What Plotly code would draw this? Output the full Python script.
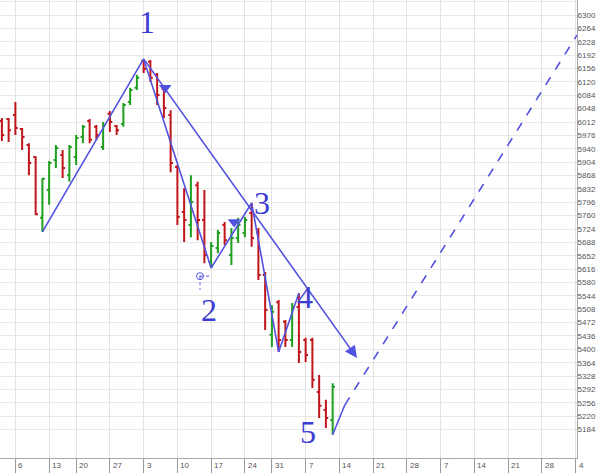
import plotly.graph_objects as go

# ---- data (trading-day index on x) ----
bar_index = list(range(50))
opens  = [6015, 6020, 6031, 5993, 5950, 5918, 5754, 5829, 5910, 5923,
          5869, 5918, 5972, 6015, 5999, 5945, 6034, 6001, 6007, 6066,
          6104, 6176, 6174, 6139, 6101, 6031, 5891, 5770, 5735, 5842,
          5748, 5635, 5673, 5735, 5654, 5700, 5713, 5767, 5716, 5600,
          5439, 5527, 5474, 5425, 5514, 5425, 5425, 5285, 5237, 5210]
highs  = [6023, 6023, 6066, 5996, 5955, 5920, 5861, 5907, 5950, 5937,
          5950, 5977, 6004, 6020, 6004, 6012, 6042, 6004, 6063, 6104,
          6139, 6182, 6179, 6144, 6106, 6044, 5896, 5834, 5869, 5851,
          5829, 5689, 5721, 5743, 5727, 5754, 5756, 5794, 5727, 5608,
          5519, 5533, 5479, 5525, 5552, 5431, 5431, 5331, 5264, 5309]
lows   = [5961, 5958, 5977, 5937, 5869, 5762, 5716, 5789, 5888, 5861,
          5851, 5896, 5955, 5955, 5964, 5937, 5985, 5977, 5999, 6058,
          6098, 6144, 6120, 6058, 6023, 5877, 5735, 5689, 5702, 5694,
          5632, 5619, 5659, 5681, 5627, 5686, 5702, 5676, 5587, 5452,
          5406, 5393, 5406, 5406, 5363, 5366, 5296, 5215, 5188, 5170]
closes = [5977, 5990, 5996, 5972, 5902, 5764, 5859, 5902, 5942, 5888,
          5945, 5969, 5999, 5964, 5977, 6004, 6012, 5990, 6058, 6098,
          6131, 6155, 6131, 6085, 6050, 5902, 5756, 5748, 5797, 5748,
          5654, 5678, 5713, 5694, 5700, 5735, 5748, 5700, 5600, 5506,
          5501, 5425, 5425, 5514, 5393, 5385, 5318, 5248, 5215, 5299]

# wave pivots (index, value)
wave_x = [6, 21, 31, 37, 41, 44]
wave_y = [5716, 6182, 5619, 5794, 5393, 5552]
wave_labels = ["1", "2", "3", "4", "5"]
label_x = [21.5, 30.7, 38.5, 44.9, 45.3]
label_y = [6281, 5506, 5794, 5541, 5178]

# channel line from wave 1 with arrow
channel_x = [21, 52.6]
channel_y = [6182, 5377]

# projection from wave 5
proj_solid_x = [49, 50.8]
proj_solid_y = [5170, 5250]
proj_dash_x = [50.8, 85.2]
proj_dash_y = [5250, 6246]

# signal triangles
signal_x = [24.2, 34.4]
signal_y = [6104, 5743]

# small marker near wave 2
mark_x = [29.35]
mark_y = [5597]
mark_h_x = [29.35, 30.8]
mark_v_y = [5597, 5560]

# axis ticks
x_tick_pos = [2, 7, 11, 16, 21, 26, 31, 36, 40, 45, 50, 55, 60, 65, 70, 75, 80, 85]
x_tick_text = ["6", "13", "20", "27", "3", "10", "17", "24", "31", "7", "14",
               "21", "28", "7", "14", "21", "28", "4"]
y_ticks = list(range(5184, 6337, 36))

BLUE = "#5252e0"
TXT_BLUE = "#3c3cd2"

fig = go.Figure()

fig.add_trace(go.Ohlc(
    x=bar_index, open=opens, high=highs, low=lows, close=closes,
    increasing=dict(line=dict(color="#1f9e1f", width=2)),
    decreasing=dict(line=dict(color="#c0161b", width=2)),
    tickwidth=0.35, showlegend=False, hoverinfo="skip"))

fig.add_trace(go.Scatter(x=wave_x, y=wave_y, mode="lines",
                         line=dict(color=BLUE, width=1.6), showlegend=False))
fig.add_trace(go.Scatter(x=proj_solid_x, y=proj_solid_y, mode="lines",
                         line=dict(color=BLUE, width=1.6), showlegend=False))
fig.add_trace(go.Scatter(x=proj_dash_x, y=proj_dash_y, mode="lines",
                         line=dict(color=BLUE, width=1.6, dash="dash"), showlegend=False))
fig.add_trace(go.Scatter(x=signal_x, y=signal_y, mode="markers",
                         marker=dict(symbol="triangle-down", size=11, color=BLUE),
                         showlegend=False))
fig.add_trace(go.Scatter(x=mark_x, y=mark_y, mode="markers",
                         marker=dict(symbol="circle-dot", size=7, color="rgba(0,0,0,0)",
                                     line=dict(color=BLUE, width=1)),
                         showlegend=False))
fig.add_trace(go.Scatter(x=mark_h_x, y=[mark_y[0], mark_y[0]], mode="lines",
                         line=dict(color=BLUE, width=1, dash="dot"), showlegend=False))
fig.add_trace(go.Scatter(x=[mark_x[0], mark_x[0]], y=mark_v_y, mode="lines",
                         line=dict(color=BLUE, width=1, dash="dot"), showlegend=False))

annotations = []
# channel arrow
annotations.append(dict(x=channel_x[1], y=channel_y[1], ax=channel_x[0], ay=channel_y[0],
                        xref="x", yref="y", axref="x", ayref="y", text="",
                        showarrow=True, arrowhead=2, arrowsize=1.5, arrowwidth=1.6,
                        arrowcolor=BLUE))
# wave labels
for t, lx, ly in zip(wave_labels, label_x, label_y):
    annotations.append(dict(x=lx, y=ly, xref="x", yref="y", text=t, showarrow=False,
                            font=dict(family="Liberation Serif", size=32, color=TXT_BLUE)))
# x tick labels (to the right of tick marks)
for pos, t in zip(x_tick_pos, x_tick_text):
    annotations.append(dict(x=pos, y=0, xref="x", yref="paper", text=t, showarrow=False,
                            xanchor="left", yanchor="top", xshift=1, yshift=-1,
                            font=dict(family="Liberation Sans", size=8, color="#555")))

fig.update_layout(
    width=600, height=473,
    margin=dict(l=0, r=23, t=0, b=15),
    paper_bgcolor="white", plot_bgcolor="white",
    showlegend=False,
    annotations=annotations,
    xaxis=dict(range=[-0.28, 85.2], tickvals=x_tick_pos, showticklabels=False,
               ticks="outside", ticklen=14, tickcolor="#9a9a9a", tickwidth=1,
               showgrid=True, gridcolor="#e2e2e2", gridwidth=1,
               showline=True, linecolor="#a8a8a8", linewidth=1,
               zeroline=False, rangeslider=dict(visible=False), fixedrange=True),
    yaxis=dict(range=[5107.5, 6340.5], side="right", tickvals=y_ticks,
               ticktext=[str(v) for v in y_ticks], ticks="", ticklabelstandoff=-2,
               tickfont=dict(family="Liberation Sans", size=8, color="#555"),
               showgrid=True, gridcolor="#e8e8e8", gridwidth=1,
               showline=True, linecolor="#a8a8a8", linewidth=1,
               zeroline=False, fixedrange=True, automargin=False),
)

fig.write_html("out.html", config={"displayModeBar": False},
               post_script="document.body.style.margin='0';document.body.style.padding='0';")
